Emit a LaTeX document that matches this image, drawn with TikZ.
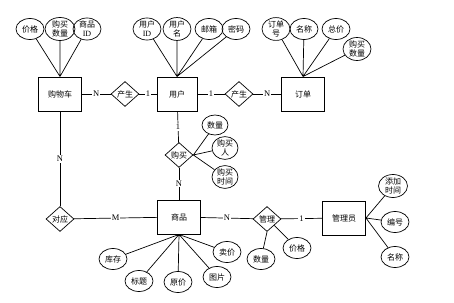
\documentclass[tikz,border=0pt]{standalone}
\usepackage{fontspec}
\setmainfont{Liberation Serif}
\newfontfamily\cjk{Noto Sans CJK SC}
\usepackage{tikz}
\usetikzlibrary{shapes.geometric}

\begin{document}
\begin{tikzpicture}[
    x=1pt, y=-1pt,
    every node/.style={font=\cjk\fontsize{8}{8.8}\selectfont, align=center},
    entity/.style={rectangle, draw, line width=0.9pt, minimum width=43pt, minimum height=34pt},
    rel/.style={diamond, draw, line width=0.7pt, inner sep=0pt, minimum width=28pt, minimum height=25pt},
    attr/.style={ellipse, draw, line width=0.7pt, inner sep=0pt, minimum width=28pt, minimum height=21pt},
    lbl/.style={fill=white, inner sep=1pt, font=\rmfamily\fontsize{8.5}{9}\selectfont},
    conn/.style={line width=0.7pt},
  ]
  \useasboundingbox (0,0) rectangle (454,302);

  % entities
  \node[entity] (gwc) at (60,94)   {购物车};
  \node[entity, minimum width=40pt] (yh) at (177,94) {用户};
  \node[entity] (dd)  at (303,94)  {订单};
  \node[entity] (sp)  at (179,217) {商品};
  \node[entity] (gly) at (344,218) {管理员};

  % relations
  \node[rel] (cs1) at (125,94)  {产生};
  \node[rel] (cs2) at (239,94)  {产生};
  \node[rel] (gm)  at (179,155) {购买};
  \node[rel] (dy)  at (60,219)  {对应};
  \node[rel] (gl)  at (267,219) {管理};

  % relation lines with cardinalities
  \draw[conn] (gwc) -- node[lbl] {N} (cs1);
  \draw[conn] (cs1) -- node[lbl] {1} (yh);
  \draw[conn] (yh)  -- node[lbl] {1} (cs2);
  \draw[conn] (cs2) -- node[lbl] {N} (dd);
  \draw[conn] (yh)  -- node[lbl] {1} (gm);
  \draw[conn] (gm)  -- node[lbl] {N} (sp);
  \draw[conn] (gwc) -- node[lbl] {N} (dy);
  \draw[conn] (dy)  -- node[lbl] {M} (sp);
  \draw[conn] (sp)  -- node[lbl] {N} (gl);
  \draw[conn] (gl)  -- node[lbl] {1} (gly);

  % attributes of 购物车
  \node[attr] (gwc1) at (30,29) {价格};
  \node[attr, minimum width=30pt, minimum height=23pt] (gwc2) at (60,29) {购买\\数量};
  \node[attr] (gwc3) at (87,29) {商品\\{\rmfamily ID}};
  \draw[conn] (gwc1) -- (gwc.north) (gwc2) -- (gwc.north) (gwc3) -- (gwc.north);

  % attributes of 用户
  \node[attr] (yh1) at (147,29) {用户\\{\rmfamily ID}};
  \node[attr] (yh2) at (177,29) {用户\\名};
  \node[attr] (yh3) at (209,29) {邮箱};
  \node[attr] (yh4) at (236,29) {密码};
  \draw[conn] (yh1) -- (yh.north) (yh2) -- (yh.north) (yh3) -- (yh.north) (yh4) -- (yh.north);

  % attributes of 订单
  \node[attr] (dd1) at (276,29) {订单\\号};
  \node[attr] (dd2) at (304,29) {名称};
  \node[attr] (dd3) at (336,29) {总价};
  \node[attr, minimum height=23pt] (dd4) at (357,49) {购买\\数量};
  \draw[conn] (dd1) -- (dd.north) (dd2) -- (dd.north) (dd3) -- (dd.north) (dd4) -- (dd.north);

  % attributes of 购买
  \node[attr, minimum width=26pt, minimum height=20pt] (gm1) at (215,125) {数量};
  \node[attr, minimum width=26pt] (gm2) at (225,148) {购买\\人};
  \node[attr, minimum width=26pt] (gm3) at (225,177) {购买\\时间};
  \draw[conn] (gm1) -- (gm.east) (gm2) -- (gm.east) (gm3) -- (gm.east);

  % attributes of 商品
  \node[attr] (sp1) at (113,259) {库存};
  \node[attr] (sp2) at (139,281) {标题};
  \node[attr] (sp3) at (178,282) {原价};
  \node[attr] (sp4) at (217,277) {图片};
  \node[attr] (sp5) at (227,252) {卖价};
  \draw[conn] (sp1) -- (sp.south) (sp2) -- (sp.south) (sp3) -- (sp.south)
              (sp4) -- (sp.south) (sp5) -- (sp.south);

  % attributes of 管理
  \node[attr] (gl1) at (261,259) {数量};
  \node[attr] (gl2) at (297,248) {价格};
  \draw[conn] (gl1) -- (gl.south) (gl2) -- (gl.south east);

  % attributes of 管理员
  \node[attr, minimum width=29pt, minimum height=23pt] (gly1) at (393,186) {添加\\时间};
  \node[attr] (gly2) at (395,222) {编号};
  \node[attr] (gly3) at (395,257) {名称};
  \draw[conn] (gly1) -- (gly.east) (gly2) -- (gly.east) (gly3) -- (gly.east);
\end{tikzpicture}
\end{document}
